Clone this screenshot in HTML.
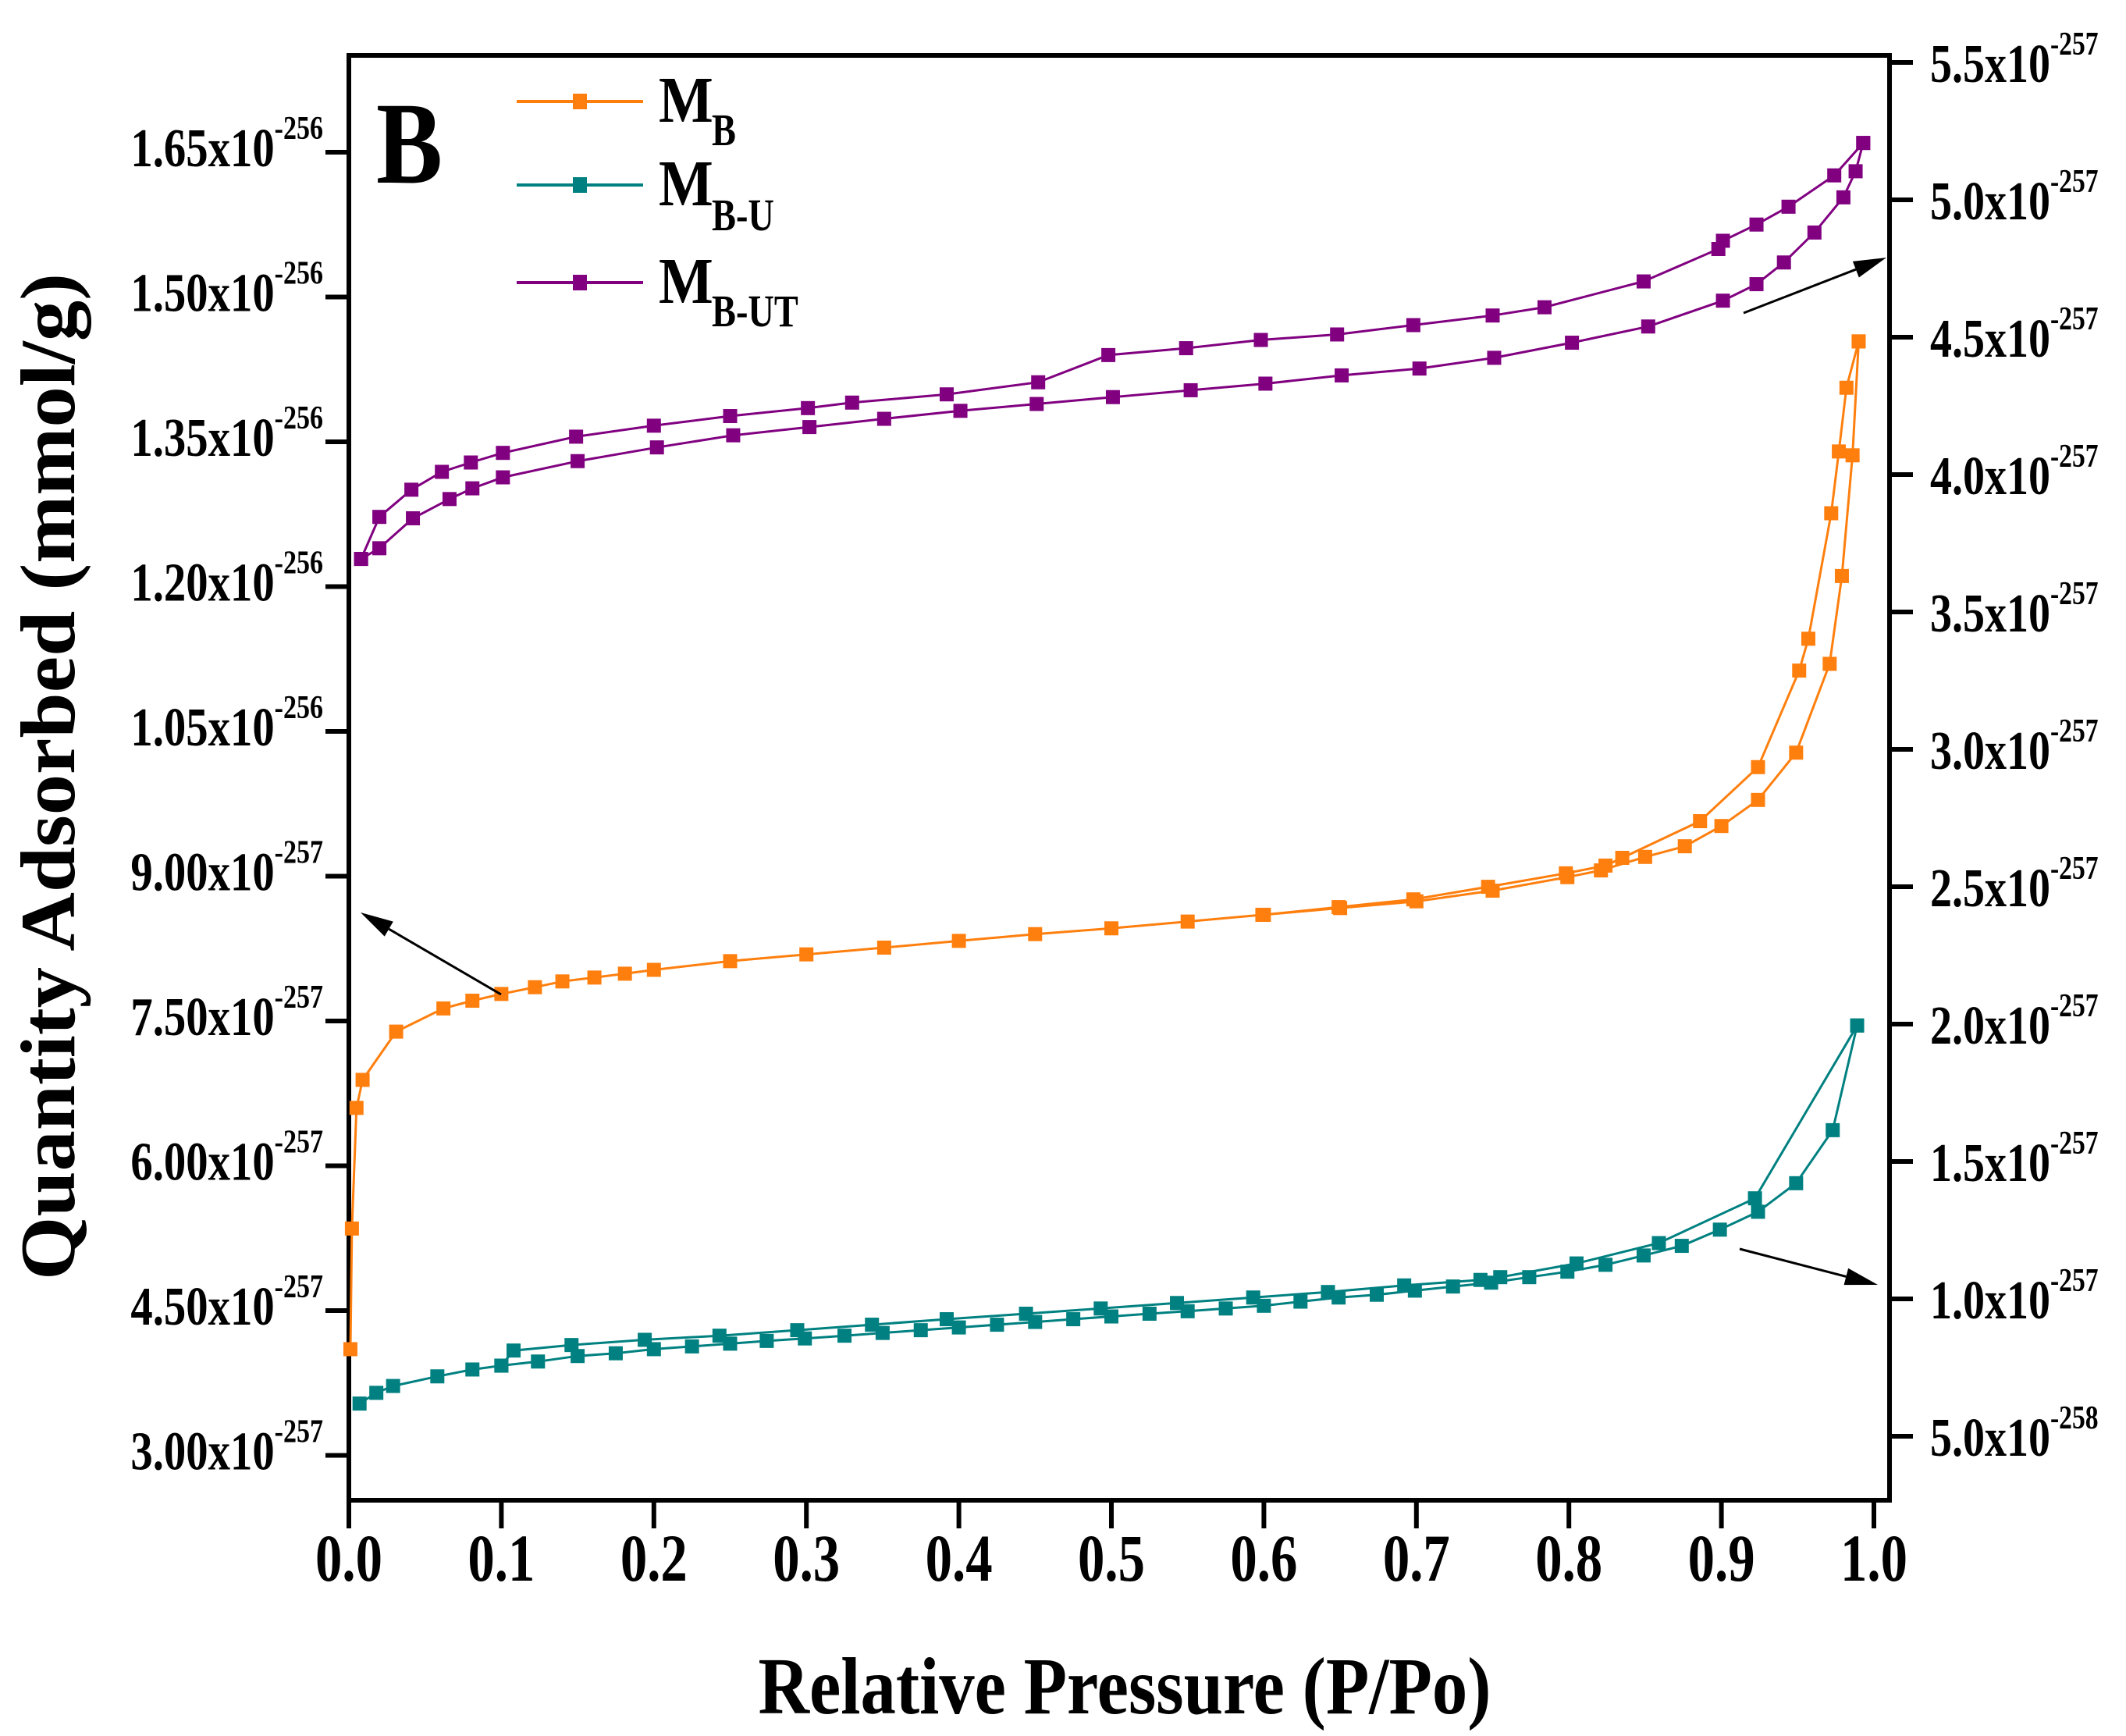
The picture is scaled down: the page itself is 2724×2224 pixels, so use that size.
<!DOCTYPE html>
<html><head><meta charset="utf-8"><style>
html,body{margin:0;padding:0;background:#fff}
svg{display:block}
text{font-family:"Liberation Serif",serif;font-weight:bold;fill:#000}
</style></head><body>
<svg id="chart" width="2724" height="2224" viewBox="0 0 2724 2224" xmlns="http://www.w3.org/2000/svg">
<g id="plot"></g>
</svg>
<script>
// ---- data (x = relative pressure, left series in 1e-256 units, right series in 1e-257 units) ----
const xTicks = [0.0,0.1,0.2,0.3,0.4,0.5,0.6,0.7,0.8,0.9,1.0];
const xTickLabels = ["0.0","0.1","0.2","0.3","0.4","0.5","0.6","0.7","0.8","0.9","1.0"];
const leftTicks = [0.30,0.45,0.60,0.75,0.90,1.05,1.20,1.35,1.50,1.65];
const leftTickMant = ["3.00","4.50","6.00","7.50","9.00","1.05","1.20","1.35","1.50","1.65"];
const leftTickExp = ["-257","-257","-257","-257","-257","-256","-256","-256","-256","-256"];
const rightTicks = [0.5,1.0,1.5,2.0,2.5,3.0,3.5,4.0,4.5,5.0,5.5];
const rightTickMant = ["5.0","1.0","1.5","2.0","2.5","3.0","3.5","4.0","4.5","5.0","5.5"];
const rightTickExp = ["-258","-257","-257","-257","-257","-257","-257","-257","-257","-257","-257"];

const mbAdsX = [0.001,0.002,0.005,0.009,0.031,0.062,0.081,0.100,0.122,0.140,0.161,0.181,0.200,0.250,0.300,0.351,0.400,0.450,0.500,0.550,0.599,0.650,0.700,0.750,0.799,0.821,0.850,0.876,0.900,0.924,0.949,0.971,0.979,0.986,0.990];
const mbAdsY = [0.410,0.535,0.660,0.689,0.739,0.763,0.771,0.778,0.785,0.791,0.795,0.799,0.803,0.812,0.819,0.826,0.833,0.840,0.846,0.853,0.860,0.867,0.874,0.885,0.899,0.906,0.920,0.931,0.952,0.979,1.028,1.120,1.211,1.336,1.454];
const mbDesX = [0.990,0.982,0.977,0.972,0.957,0.951,0.924,0.886,0.835,0.824,0.798,0.747,0.698,0.649,0.600];
const mbDesY = [1.454,1.406,1.340,1.276,1.146,1.113,1.013,0.957,0.919,0.911,0.903,0.889,0.876,0.868,0.860];

const mbuAdsX = [0.007,0.018,0.029,0.058,0.081,0.100,0.124,0.150,0.175,0.200,0.225,0.250,0.274,0.299,0.325,0.350,0.375,0.400,0.425,0.450,0.475,0.500,0.525,0.550,0.575,0.600,0.624,0.649,0.674,0.699,0.724,0.749,0.774,0.799,0.824,0.849,0.874,0.899,0.924,0.949,0.973,0.989];
const mbuAdsY = [0.619,0.658,0.683,0.718,0.743,0.757,0.772,0.792,0.802,0.817,0.827,0.837,0.847,0.856,0.866,0.876,0.886,0.896,0.906,0.916,0.926,0.936,0.946,0.955,0.965,0.975,0.990,1.005,1.015,1.030,1.045,1.059,1.079,1.099,1.124,1.158,1.193,1.252,1.317,1.421,1.614,1.995];
const mbuDesX = [0.989,0.922,0.859,0.805,0.755,0.742,0.692,0.642,0.593,0.543,0.493,0.444,0.392,0.343,0.294,0.243,0.194,0.146,0.108,0.100];
const mbuDesY = [1.995,1.366,1.203,1.129,1.079,1.069,1.049,1.025,1.005,0.985,0.965,0.946,0.926,0.906,0.886,0.866,0.851,0.832,0.812,0.757];

const mbutAdsX = [0.008,0.020,0.042,0.066,0.081,0.101,0.150,0.202,0.252,0.302,0.351,0.401,0.451,0.501,0.552,0.601,0.651,0.702,0.751,0.802,0.852,0.901,0.923,0.941,0.961,0.980,0.988,0.993];
const mbutAdsY = [3.693,3.732,3.841,3.911,3.950,3.990,4.049,4.099,4.143,4.173,4.203,4.232,4.257,4.282,4.307,4.331,4.361,4.386,4.425,4.480,4.539,4.633,4.693,4.772,4.881,5.009,5.104,5.207];
const mbutDesX = [0.993,0.974,0.944,0.923,0.901,0.898,0.849,0.784,0.750,0.698,0.648,0.598,0.549,0.498,0.452,0.392,0.330,0.301,0.250,0.200,0.149,0.101,0.080,0.061,0.041,0.020,0.008];
const mbutDesY = [5.207,5.089,4.975,4.910,4.851,4.821,4.703,4.609,4.579,4.544,4.510,4.490,4.460,4.435,4.336,4.292,4.262,4.242,4.213,4.178,4.138,4.079,4.044,4.010,3.945,3.846,3.693];

// ---- axes ----
const X0=447, XU=1954;
function sx(x){return X0+x*XU;}
function syL(v){return 195+(1.65-v)/0.15*185.5;}
function syR(r){return 1840-(r-0.5)*352;}
const FL=447, FR=2421, FT=71, FB=1922;
const NS="http://www.w3.org/2000/svg";
const root=document.getElementById('plot');
function mk(tag,attrs,parent){const e=document.createElementNS(NS,tag);for(const k in attrs)e.setAttribute(k,attrs[k]);(parent||root).appendChild(e);return e;}

// frame
const frame=mk('rect',{x:FL,y:FT,width:FR-FL,height:FB-FT,fill:'none',stroke:'#000','stroke-width':6});



// x ticks
xTicks.forEach((t,i)=>{
  const g=mk('g',{});
  
  
  mk('line',{x1:sx(t),x2:sx(t),y1:FB,y2:FB+36,stroke:'#000','stroke-width':6},g);
  const tx=mk('text',{x:0,y:0,'font-size':86,'text-anchor':'middle',transform:`translate(${sx(t)},2025) scale(0.8,1)`},g);
  tx.textContent=xTickLabels[i];
});
// left ticks
leftTicks.forEach((t,i)=>{
  const g=mk('g',{});
  
  
  const y=syL(t);
  mk('line',{x1:FL-30,x2:FL,y1:y,y2:y,stroke:'#000','stroke-width':6},g);
  const tx=mk('text',{x:0,y:0,'font-size':70,'text-anchor':'end',transform:`translate(414,${y+18}) scale(0.81,1)`},g);
  const a=mk('tspan',{},tx);a.textContent=leftTickMant[i]+'x10';
  const b=mk('tspan',{dy:-35,'font-size':42},tx);b.textContent=leftTickExp[i];
});
// right ticks
rightTicks.forEach((t,i)=>{
  const g=mk('g',{});
  
  
  const y=syR(t);
  mk('line',{x1:FR,x2:FR+30,y1:y,y2:y,stroke:'#000','stroke-width':6},g);
  const tx=mk('text',{x:0,y:0,'font-size':70,'text-anchor':'start',transform:`translate(2473,${y+25}) scale(0.8,1)`},g);
  const a=mk('tspan',{},tx);a.textContent=rightTickMant[i]+'x10';
  const b=mk('tspan',{dy:-35,'font-size':42},tx);b.textContent=rightTickExp[i];
});

// series
function series(xs,ys,sy,color,name){
  const g=mk('g',{});
  
  
  const pts=xs.map((x,i)=>sx(x).toFixed(1)+','+sy(ys[i]).toFixed(1)).join(' ');
  mk('polyline',{points:pts,fill:'none',stroke:color,'stroke-width':3},g);
  xs.forEach((x,i)=>{
    const r=mk('rect',{x:sx(x)-9,y:sy(ys[i])-9,width:18,height:18,fill:color},g);
    
    
  });
}
const OR='#FF7F0E', TE='#008080', PU='#800080';
series(mbAdsX,mbAdsY,syL,OR,'mb-adsorption');
series(mbDesX,mbDesY,syL,OR,'mb-desorption');
series(mbuAdsX,mbuAdsY,syR,TE,'mbu-adsorption');
series(mbuDesX,mbuDesY,syR,TE,'mbu-desorption');
series(mbutAdsX,mbutAdsY,syR,PU,'mbut-adsorption');
series(mbutDesX,mbutDesY,syR,PU,'mbut-desorption');

// arrows
function arrow(x1,y1,x2,y2,name){
  const g=mk('g',{});
  
  
  const a=Math.atan2(y2-y1,x2-x1), L=42, W=11;
  const bx=x2-L*Math.cos(a), by=y2-L*Math.sin(a);
  mk('line',{x1:x1,y1:y1,x2:bx,y2:by,stroke:'#000','stroke-width':3},g);
  const px=-Math.sin(a)*W, py=Math.cos(a)*W;
  mk('polygon',{points:`${x2},${y2} ${bx+px},${by+py} ${bx-px},${by-py}`,fill:'#000'},g);
}
arrow(642,1274,462,1169,'mb-axis-arrow');
arrow(2234,401,2417,330,'mbut-axis-arrow');
arrow(2229,1600,2406,1646,'mbu-axis-arrow');

// legend
const leg=[[OR,130,156,186,'B'],[TE,237,263,295,'B-U'],[PU,362,388,418,'B-UT']];
leg.forEach((l,i)=>{
  const g=mk('g',{});
  
  
  mk('line',{x1:662,x2:824,y1:l[1],y2:l[1],stroke:l[0],'stroke-width':4},g);
  mk('rect',{x:734,y:l[1]-10,width:18,height:20,fill:l[0]},g);
  const m=mk('text',{x:0,y:0,'font-size':84,transform:`translate(844,${l[2]}) scale(0.88,1)`},g);
  m.textContent='M';
  const s=mk('text',{x:0,y:0,'font-size':58,transform:`translate(912,${l[3]}) scale(0.8,1)`},g);
  s.textContent=l[4];
});

// panel label
const B=mk('text',{x:0,y:0,'font-size':150,transform:'translate(482,234) scale(0.85,1)'});
B.textContent='B';



// axis titles
const yt=mk('text',{x:0,y:0,'font-size':100,'text-anchor':'middle',textLength:1290,lengthAdjust:'spacingAndGlyphs',transform:'translate(95,995) rotate(-90)'});
yt.textContent='Quantity Adsorbed (mmol/g)';


const xt=mk('text',{x:1441,y:2195,'font-size':104,'text-anchor':'middle',textLength:939,lengthAdjust:'spacingAndGlyphs'});
xt.textContent='Relative Pressure (P/Po)';


</script>
</body></html>
